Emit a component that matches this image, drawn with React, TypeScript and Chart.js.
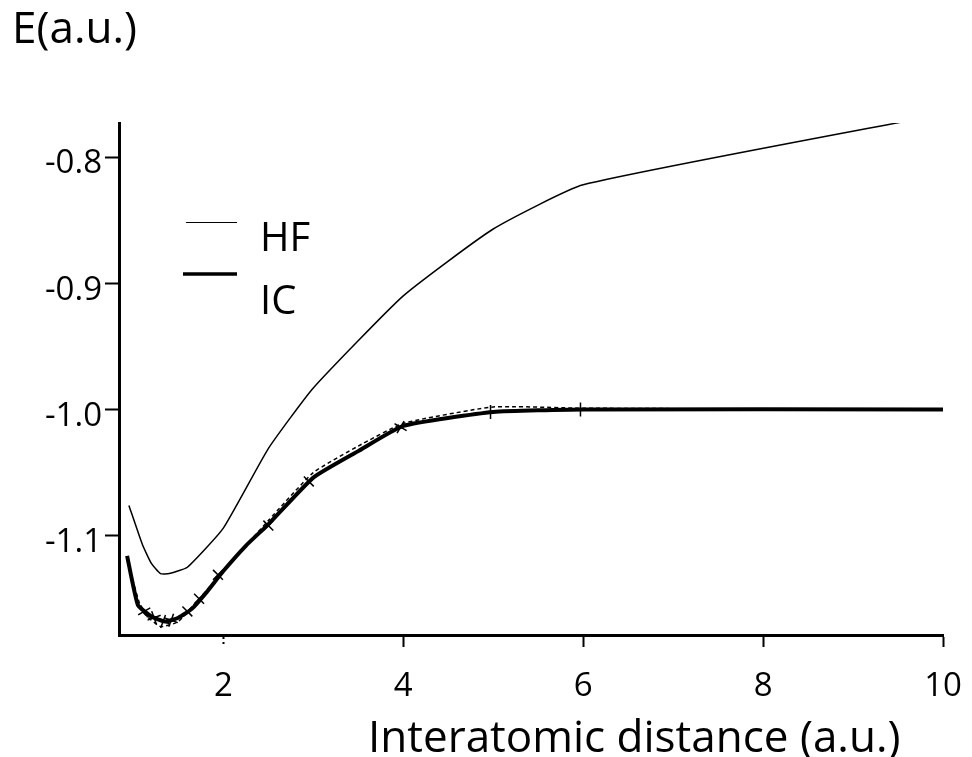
import React, { useEffect, useRef } from "react";
import { Chart, registerables } from "chart.js";

Chart.register(...registerables);

const FONT = "'Open Sans'";

// HF curve
const hfR = [0.95, 1.1, 1.2, 1.3, 1.4, 1.6, 2.0, 2.5, 3.0, 4.0, 5.0, 6.0, 10.0];
const hfE = [-1.076, -1.107, -1.122, -1.130, -1.130, -1.125, -1.094, -1.031, -0.983, -0.910, -0.857, -0.822, -0.766];

// IC curve (thick)
const icR = [0.93, 1.05, 1.2, 1.35, 1.5, 1.65, 1.8, 2.0, 2.25, 2.5, 3.0, 3.5, 4.0, 5.0, 6.0, 10.0];
const icE = [-1.116, -1.155, -1.164, -1.168, -1.165, -1.158, -1.146, -1.128, -1.108, -1.091, -1.054, -1.033, -1.013, -1.002, -1.0, -1.0];

// IC variant (dashed, slightly offset)
const ic2R = [0.95, 1.1, 1.3, 1.5, 2.0, 2.5, 3.0, 3.5, 4.0, 5.0, 6.0, 9.2];
const ic2E = [-1.124, -1.160, -1.172, -1.168, -1.128, -1.088, -1.050, -1.029, -1.011, -0.998, -0.999, -1.0];

// IC marker points
const mkR = [1.12, 1.23, 1.33, 1.42, 1.6, 1.73, 1.94, 2.5, 2.95, 3.97, 4.97, 5.97];
const mkE = [-1.160, -1.165, -1.168, -1.167, -1.160, -1.150, -1.131, -1.092, -1.057, -1.014, -1.002, -1.0];
const mkRot = [60, 70, 20, 20, 45, 45, 45, 45, 45, 30, 0, 0];

const xTicks = [2, 4, 6, 8, 10];
const yTicks = [-1.1, -1.0, -0.9, -0.8];

const xTitle = "Interatomic distance (a.u.)";
const yTitle = "E(a.u.)";
const legendLabels = ["HF", "IC"];

const toPts = (xs: number[], ys: number[]) => xs.map((x, i) => ({ x, y: ys[i] }));

const textPlugin = {
  id: "texts",
  afterDraw(chart: any) {
    const ctx = chart.ctx as CanvasRenderingContext2D;
    ctx.save();
    ctx.fillStyle = "#000";
    ctx.textAlign = "left";
    ctx.textBaseline = "alphabetic";
    ctx.font = `44px ${FONT}`;
    ctx.fillText(yTitle, 12, 43);
    ctx.font = `44px ${FONT}`;
    ctx.fillText(xTitle, 368, 752);
    // legend
    ctx.strokeStyle = "#000";
    ctx.lineWidth = 1;
    ctx.beginPath();
    ctx.moveTo(186, 222.5);
    ctx.lineTo(237, 222.5);
    ctx.stroke();
    ctx.lineWidth = 3.5;
    ctx.beginPath();
    ctx.moveTo(183, 274);
    ctx.lineTo(237, 274);
    ctx.stroke();
    ctx.font = `40px ${FONT}`;
    ctx.fillText(legendLabels[0], 260, 251);
    ctx.fillText(legendLabels[1], 260, 314);
    ctx.restore();
  },
};

export default function App() {
  const ref = useRef<HTMLCanvasElement | null>(null);
  useEffect(() => {
    if (!ref.current) return;
    const chart = new Chart(ref.current, {
      type: "line",
      data: {
        datasets: [
          {
            label: "HF",
            data: toPts(hfR, hfE),
            borderColor: "#000",
            borderWidth: 1.5,
            pointRadius: 0,
            tension: 0.15,
          },
          {
            label: "IC dashed",
            data: toPts(ic2R, ic2E),
            borderColor: "#000",
            borderWidth: 1.5,
            borderDash: [4, 3],
            pointRadius: 0,
            tension: 0.15,
          },
          {
            label: "IC",
            data: toPts(icR, icE),
            borderColor: "#000",
            borderWidth: 4,
            pointRadius: 0,
            tension: 0.15,
          },
          {
            label: "IC marks",
            data: toPts(mkR, mkE),
            showLine: false,
            pointStyle: "cross",
            pointRadius: 7,
            pointBorderWidth: 1.5,
            pointBorderColor: "#000",
            pointRotation: mkRot,
          } as any,
        ],
      },
      options: {
        animation: false,
        responsive: false,
        devicePixelRatio: 1,
        layout: { padding: { top: 123, right: 29, left: 0, bottom: 0 } },
        plugins: { legend: { display: false }, tooltip: { enabled: false }, title: { display: false } },
        scales: {
          x: {
            type: "linear",
            min: 0.84,
            max: 10,
            afterBuildTicks: (s: any) => {
              s.ticks = xTicks.map((v) => ({ value: v }));
            },
            afterFit: (s: any) => {
              s.height = 122;
              s.paddingLeft = 0;
              s.paddingRight = 0;
            },
            grid: {
              drawOnChartArea: false,
              drawTicks: true,
              tickLength: 12,
              tickColor: "#000",
              tickWidth: 2,
              tickBorderDash: (c: any) => (c.tick && c.tick.value === 2 ? [2, 3] : []),
            } as any,
            border: { color: "#000", width: 3 },
            ticks: {
              color: "#000",
              font: { family: FONT, size: 33 },
              padding: 20,
              maxRotation: 0,
              callback: (v: any) => String(v),
            },
          },
          y: {
            type: "linear",
            min: -1.1787,
            max: -0.773,
            afterBuildTicks: (s: any) => {
              s.ticks = yTicks.map((v) => ({ value: v }));
            },
            afterFit: (s: any) => {
              s.width = 119;
              s.paddingTop = 0;
              s.paddingBottom = 0;
            },
            grid: {
              drawOnChartArea: false,
              drawTicks: true,
              tickLength: 14,
              tickColor: "#000",
              tickWidth: 2,
            },
            border: { color: "#000", width: 3 },
            ticks: {
              color: "#000",
              font: { family: FONT, size: 33 },
              padding: 3,
              labelOffset: 7,
              callback: (v: any) => Number(v).toFixed(1),
            },
          },
        },
      },
      plugins: [textPlugin],
    });
    return () => chart.destroy();
  }, []);
  return (
    <div style={{ position: "absolute", left: 0, top: 0, width: 972, height: 757, background: "#fff" }}>
      <canvas ref={ref} width={972} height={757} style={{ width: 972, height: 757 }} />
    </div>
  );
}
